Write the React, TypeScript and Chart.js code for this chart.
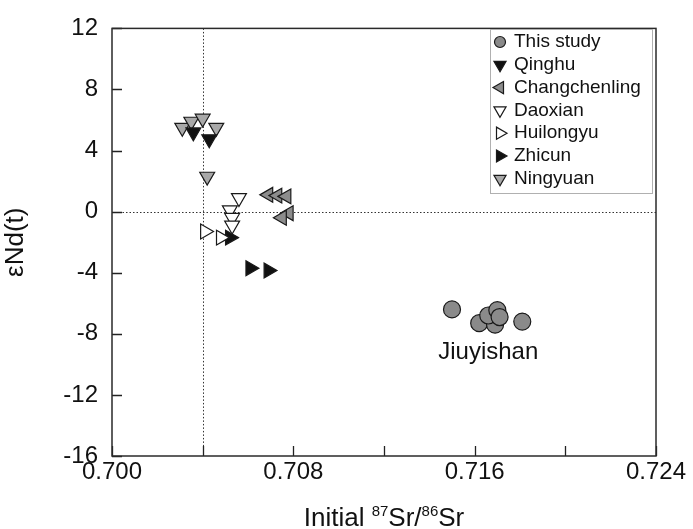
import React, { useEffect, useRef } from 'react';
import { Chart, registerables } from 'chart.js';

Chart.register(...registerables);

// ---- data ----
const seriesNames = ['This study', 'Qinghu', 'Changchenling', 'Daoxian', 'Huilongyu', 'Zhicun', 'Ningyuan'];

const thisStudySr = [0.7150, 0.7162, 0.7169, 0.7166, 0.7170, 0.7171, 0.7181];
const thisStudyNd = [-6.4, -7.3, -7.4, -6.8, -6.45, -6.9, -7.2];

const qinghuSr = [0.70359, 0.70429];
const qinghuNd = [5.2, 4.75];

const changchenlingSr = [0.7069, 0.7073, 0.7077, 0.7078, 0.7075];
const changchenlingNd = [1.1, 1.05, 1.0, -0.1, -0.4];

const daoxianSr = [0.7056, 0.7052, 0.7053, 0.7053];
const daoxianNd = [0.9, 0.1, -0.4, -0.9];

const huilongyuSr = [0.7041, 0.7048];
const huilongyuNd = [-1.3, -1.7];

const zhicunSr = [0.7052, 0.7061, 0.7069];
const zhicunNd = [-1.7, -3.7, -3.85];

const ningyuanSr = [0.7031, 0.7035, 0.7040, 0.7046, 0.7042];
const ningyuanNd = [5.5, 5.9, 6.1, 5.5, 2.3];

const xLabelTicks = [0.700, 0.708, 0.716, 0.724];
const refSr = 0.704;
const refNd = 0;
const clusterLabel = 'Jiuyishan';
const clusterLabelPos = [0.7166, -9.2];

// ---- styles ----
const FONT = '"Liberation Sans", Arial, Helvetica, sans-serif';
const styles = [
  { shape: 'circle', rotation: 0, fill: '#8a8a8a', r: 8.5, lr: 5.5 },
  { shape: 'triangle', rotation: 180, fill: '#111111', r: 8.6, lr: 7 },
  { shape: 'triangle', rotation: 270, fill: '#8c8c8c', r: 8.6, lr: 7 },
  { shape: 'triangle', rotation: 180, fill: '#ffffff', r: 8.6, lr: 7 },
  { shape: 'triangle', rotation: 90, fill: '#ffffff', r: 8.6, lr: 7 },
  { shape: 'triangle', rotation: 90, fill: '#111111', r: 8.6, lr: 7 },
  { shape: 'triangle', rotation: 180, fill: '#a8a8a8', r: 8.6, lr: 7 },
];

const seriesX = [thisStudySr, qinghuSr, changchenlingSr, daoxianSr, huilongyuSr, zhicunSr, ningyuanSr];
const seriesY = [thisStudyNd, qinghuNd, changchenlingNd, daoxianNd, huilongyuNd, zhicunNd, ningyuanNd];

function drawMarker(ctx: CanvasRenderingContext2D, shape: string, rot: number, x: number, y: number, r: number, fill: string) {
  ctx.save();
  ctx.beginPath();
  if (shape === 'circle') {
    ctx.arc(x, y, r, 0, Math.PI * 2);
  } else {
    let rad = (rot * Math.PI) / 180;
    for (let i = 0; i < 3; i++) {
      const px = x + Math.sin(rad) * r;
      const py = y - Math.cos(rad) * r;
      if (i === 0) ctx.moveTo(px, py);
      else ctx.lineTo(px, py);
      rad += (2 * Math.PI) / 3;
    }
    ctx.closePath();
  }
  ctx.fillStyle = fill;
  ctx.fill();
  ctx.lineWidth = 1.2;
  ctx.strokeStyle = '#1a1a1a';
  ctx.stroke();
  ctx.restore();
}

const decorPlugin = {
  id: 'decor',
  beforeDatasetsDraw(chart: any) {
    const { ctx, chartArea: a, scales } = chart;
    const xs = scales.x, ys = scales.y;
    ctx.save();
    ctx.strokeStyle = '#333';
    ctx.lineWidth = 1;
    ctx.setLineDash([1.5, 2]);
    const px = Math.round(xs.getPixelForValue(refSr)) + 0.5;
    ctx.beginPath();
    ctx.moveTo(px, a.top);
    ctx.lineTo(px, a.bottom);
    ctx.stroke();
    const py = Math.round(ys.getPixelForValue(refNd)) + 0.5;
    ctx.beginPath();
    ctx.moveTo(a.left, py);
    ctx.lineTo(a.right, py);
    ctx.stroke();
    ctx.restore();
  },
  afterDraw(chart: any) {
    const { ctx, chartArea: a, scales } = chart;
    const xs = scales.x, ys = scales.y;
    ctx.save();
    // ticks (inward)
    ctx.strokeStyle = '#222';
    ctx.lineWidth = 1.3;
    ctx.beginPath();
    xs.ticks.forEach((t: any) => {
      const p = Math.round(xs.getPixelForValue(t.value)) + 0.5;
      ctx.moveTo(p, a.bottom);
      ctx.lineTo(p, a.bottom - 10);
    });
    ys.ticks.forEach((t: any) => {
      const p = Math.round(ys.getPixelForValue(t.value)) + 0.5;
      ctx.moveTo(a.left, p);
      ctx.lineTo(a.left + 10, p);
    });
    ctx.stroke();
    // frame
    ctx.lineWidth = 1.5;
    ctx.strokeStyle = '#2a2a2a';
    ctx.strokeRect(a.left, a.top, a.right - a.left, a.bottom - a.top);

    // cluster label
    ctx.fillStyle = '#111';
    ctx.font = `24px ${FONT}`;
    ctx.textAlign = 'center';
    ctx.textBaseline = 'middle';
    ctx.fillText(clusterLabel, xs.getPixelForValue(clusterLabelPos[0]), ys.getPixelForValue(clusterLabelPos[1]));

    // legend
    const lx = 490, ly = 29, lw = 162, lh = 164;
    ctx.fillStyle = '#fff';
    ctx.fillRect(lx, ly, lw, lh);
    ctx.strokeStyle = '#b0b0b0';
    ctx.lineWidth = 1;
    ctx.strokeRect(lx + 0.5, ly + 0.5, lw, lh);
    ctx.font = `19px ${FONT}`;
    ctx.textAlign = 'left';
    ctx.textBaseline = 'middle';
    seriesNames.forEach((name, i) => {
      const y = 42 + i * 22.8;
      const s = styles[i];
      drawMarker(ctx, s.shape, s.rotation, 500, y, s.lr, s.fill);
      ctx.fillStyle = '#111';
      ctx.fillText(name, 514, y);
    });

    // x axis title with superscripts
    const cx = (a.left + a.right) / 2;
    const base = 526;
    const parts: [string, boolean][] = [['Initial ', false], ['87', true], ['Sr/', false], ['86', true], ['Sr', false]];
    const big = `26px ${FONT}`, small = `15px ${FONT}`;
    let total = 0;
    parts.forEach(([t, sup]) => { ctx.font = sup ? small : big; total += ctx.measureText(t).width; });
    let x = cx - total / 2;
    ctx.textBaseline = 'alphabetic';
    ctx.fillStyle = '#111';
    parts.forEach(([t, sup]) => {
      ctx.font = sup ? small : big;
      ctx.fillText(t, x, sup ? base - 10 : base);
      x += ctx.measureText(t).width;
    });
    ctx.restore();
  },
};

export default function App() {
  const ref = useRef<HTMLCanvasElement | null>(null);
  useEffect(() => {
    if (!ref.current) return;
    const datasets = seriesNames.map((name, i) => ({
      label: name,
      data: seriesX[i].map((v, j) => ({ x: v, y: seriesY[i][j] })),
      pointStyle: styles[i].shape,
      rotation: styles[i].rotation,
      pointRadius: styles[i].r,
      pointHoverRadius: styles[i].r,
      backgroundColor: styles[i].fill,
      borderColor: '#1a1a1a',
      borderWidth: 1.2,
      showLine: false,
    }));
    const chart = new Chart(ref.current, {
      type: 'scatter',
      data: { datasets },
      options: {
        responsive: false,
        animation: false,
        layout: { padding: { top: 24, right: 37, left: 0, bottom: 0 } },
        plugins: { legend: { display: false }, tooltip: { enabled: false } },
        scales: {
          x: {
            type: 'linear',
            min: 0.700,
            max: 0.724,
            grid: { display: false, drawTicks: false },
            border: { display: false },
            ticks: {
              stepSize: 0.004,
              padding: 2,
              color: '#111',
              font: { family: FONT, size: 24 },
              maxRotation: 0,
              autoSkip: false,
              callback: (v: any) => {
                const n = Number(v);
                return xLabelTicks.some((t) => Math.abs(t - n) < 1e-6) ? n.toFixed(3) : '';
              },
            },
            afterFit: (s: any) => { s.height = 529 - 456; },
          },
          y: {
            type: 'linear',
            min: -16,
            max: 12,
            grid: { display: false, drawTicks: false },
            border: { display: false },
            ticks: {
              stepSize: 4,
              padding: 14,
              color: '#111',
              font: { family: FONT, size: 24 },
            },
            title: {
              display: true,
              text: 'εNd(t)',
              color: '#111',
              font: { family: FONT, size: 26 },
              padding: { top: 0, bottom: 0 },
            },
            afterFit: (s: any) => { s.width = 112; },
          },
        },
      },
      plugins: [decorPlugin],
    });
    return () => chart.destroy();
  }, []);
  return (
    <div style={{ position: 'absolute', left: 0, top: 0, width: 693, height: 529, background: '#fff' }}>
      <canvas ref={ref} width={693} height={529} style={{ display: 'block' }} />
    </div>
  );
}
